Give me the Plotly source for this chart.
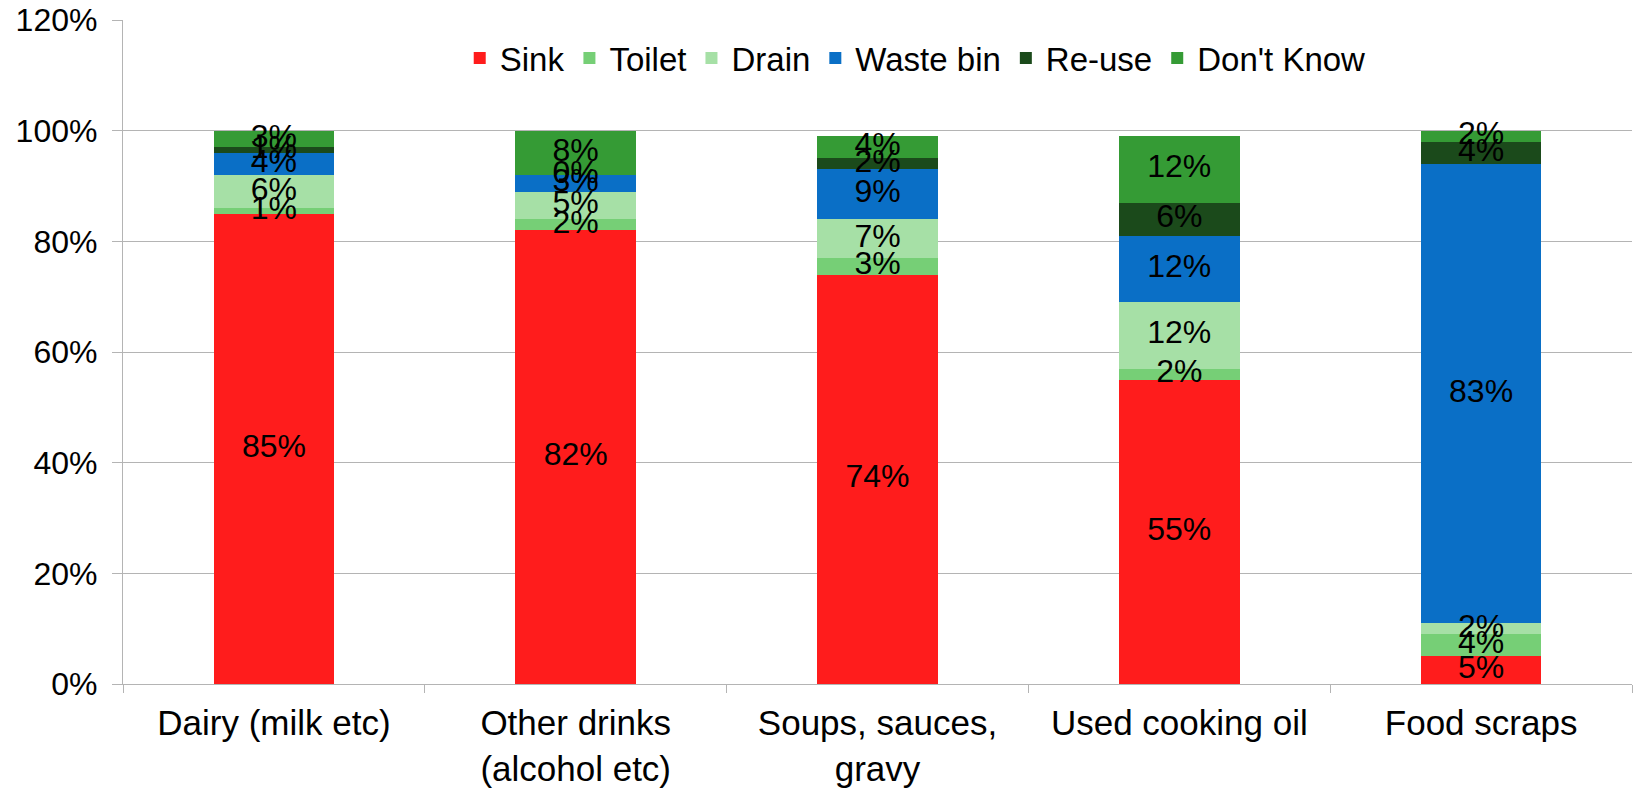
import plotly.graph_objects as go

# Disposal method shares (%) per food/drink type
categories = ["Dairy (milk etc)", "Other drinks<br>(alcohol etc)", "Soups, sauces,<br>gravy",
              "Used cooking oil", "Food scraps"]
sink = [85, 82, 74, 55, 5]
toilet = [1, 2, 3, 2, 4]
drain = [6, 5, 7, 12, 2]
waste_bin = [4, 3, 9, 12, 83]
re_use = [1, 0, 2, 6, 4]
dont_know = [3, 8, 4, 12, 2]

series = [
    ("Sink", sink, "#ff1c1c"),
    ("Toilet", toilet, "#76cf76"),
    ("Drain", drain, "#a6e0a6"),
    ("Waste bin", waste_bin, "#0a6fc6"),
    ("Re-use", re_use, "#1b4a1b"),
    ("Don't Know", dont_know, "#359b35"),
]

FONT = "Liberation Sans, Arial, sans-serif"

fig = go.Figure()
base = [0] * len(categories)
label_x, label_y, label_t = [], [], []
for name, vals, color in series:
    fracs = [v / 100 for v in vals]
    fig.add_trace(go.Bar(name=name, x=categories, y=fracs, marker_color=color,
                         marker_line_width=0, width=0.4))
    for i, f in enumerate(fracs):
        label_x.append(categories[i])
        label_y.append(base[i] + f / 2)
        label_t.append(f"{vals[i]}%")
        base[i] += f

# Value labels centred on each segment
fig.add_trace(go.Scatter(x=label_x, y=label_y, text=label_t, mode="text",
                         textfont=dict(family=FONT, size=32, color="#000000"),
                         showlegend=False, hoverinfo="skip"))

fig.update_layout(
    barmode="stack",
    width=1634, height=793,
    margin=dict(l=123, r=2, t=20, b=109),
    plot_bgcolor="white", paper_bgcolor="white",
    font=dict(family=FONT, color="#000000"),
    legend=dict(orientation="h", x=0.525, xanchor="center", y=0.985, yanchor="top",
                font=dict(size=33), bgcolor="rgba(255,255,255,0)",
                traceorder="normal", itemwidth=30),
    bargap=0.6,
)
fig.update_yaxes(range=[0, 1.2], dtick=0.2, tickformat=".0%",
                 showgrid=True, gridcolor="#b4b4b4", gridwidth=1.3,
                 showline=True, linecolor="#b4b4b4", linewidth=1.3,
                 ticks="outside", ticklen=10, tickcolor="#b4b4b4",
                 tickfont=dict(size=32), ticklabelstandoff=8, zeroline=False)
fig.update_xaxes(showline=True, linecolor="#b4b4b4", linewidth=1.3,
                 ticks="outside", tickson="boundaries", ticklen=8, tickcolor="#b4b4b4",
                 tickfont=dict(size=35), ticklabelstandoff=8, showgrid=False)

fig.write_html("out.html")
